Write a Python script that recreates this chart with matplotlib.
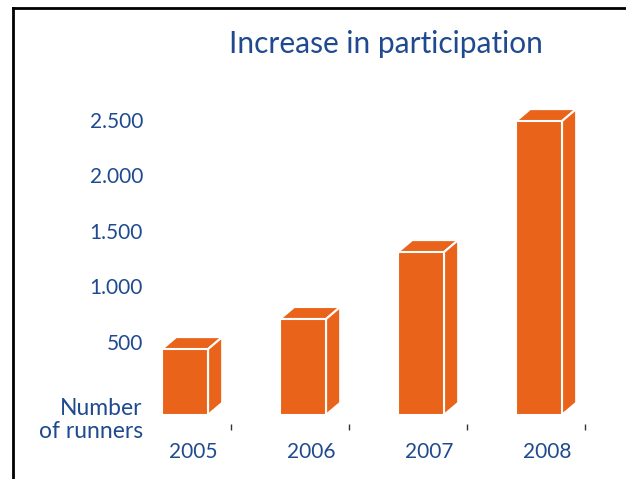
import matplotlib.pyplot as plt
from matplotlib.patches import Polygon
from matplotlib.lines import Line2D

plt.rcParams['font.family'] = ['Lato', 'DejaVu Sans']

years = ['2005', '2006', '2007', '2008']
runners = [432, 703, 1306, 2486]
yticks = [500, 1000, 1500, 2000, 2500]
ytick_labels = ['500', '1.000', '1.500', '2.000', '2.500']

orange = '#E9641A'
blue = '#1F4A8F'
base = -160          # bars stand a bit below the zero line, like the original
width = 0.39
dx, dy = 0.12, 108   # depth of the fake 3D

W, H = 626, 479
fig = plt.figure(figsize=(W / 100, H / 100), dpi=100)
ax = fig.add_axes([150 / W, (H - 430) / H, 450 / W, 340 / H])

x = list(range(len(years)))
bars = ax.bar(x, [v - base for v in runners], width=width, bottom=base,
              color=orange, edgecolor='white', linewidth=1.5, zorder=3)

# top and side faces
for b in bars:
    x0 = b.get_x()
    x1 = x0 + b.get_width()
    y0 = b.get_y()
    y1 = y0 + b.get_height()
    top = Polygon([(x0, y1), (x0 + dx, y1 + dy), (x1 + dx, y1 + dy), (x1, y1)],
                  closed=True, facecolor=orange, edgecolor='white', lw=1.5, zorder=2)
    side = Polygon([(x1, y0), (x1 + dx, y0 + dy), (x1 + dx, y1 + dy), (x1, y1)],
                   closed=True, facecolor=orange, edgecolor='white', lw=1.5, zorder=2)
    ax.add_patch(top)
    ax.add_patch(side)

ax.set_xlim(-0.297, 3.517)
ax.set_ylim(-297, 2766)

for s in ax.spines.values():
    s.set_visible(False)

ax.set_yticks(yticks)
ax.set_yticklabels(ytick_labels)
ax.tick_params(axis='y', length=0, pad=5, labelsize=15, labelcolor=blue)

# small marks between bars, year labels under the bars
ax.set_xticks([i + 0.39 for i in x])
ax.set_xticklabels([''] * len(x))
ax.set_xticks([i + 0.07 for i in x], minor=True)
ax.set_xticklabels(years, minor=True)
ax.tick_params(axis='x', which='major', direction='in', length=4, width=1, color='#333333')
ax.tick_params(axis='x', which='minor', length=0, pad=9, labelsize=15, labelcolor=blue)

ax.text(-0.016, -205, 'Number\nof runners', transform=ax.get_yaxis_transform(),
        ha='right', va='center', fontsize=16.5, color=blue, linespacing=1.15)

fig.text(386 / W, 1 - 44 / H, 'Increase in participation', ha='center', va='center',
         fontsize=21.5, color=blue)

# frame of the slide
fig.add_artist(Line2D([13 / W, 13 / W], [0, 1 - 8 / H], color='black', lw=2,
                      transform=fig.transFigure))
fig.add_artist(Line2D([13 / W, 1], [1 - 8 / H, 1 - 8 / H], color='black', lw=2,
                      transform=fig.transFigure))

fig.savefig('out.png', dpi=100)
